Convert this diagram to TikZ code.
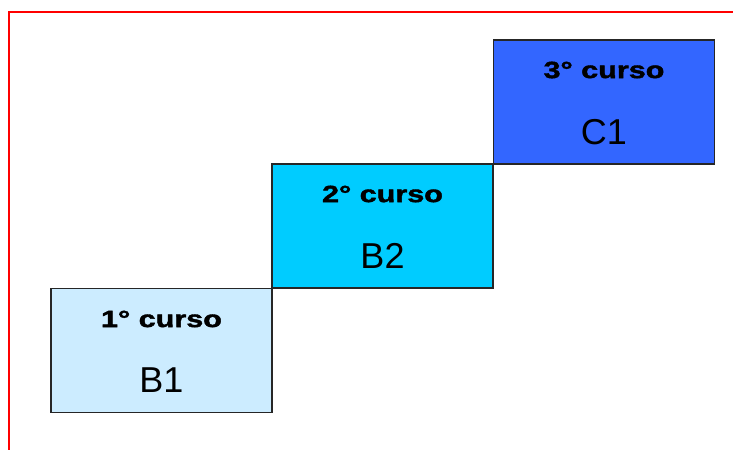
\documentclass[tikz,border=0pt]{standalone}
\usepackage{graphicx}
\usepackage{fontspec}
\setmainfont{Liberation Sans}
\newfontfamily\cursofont{Liberation Sans}[BoldFeatures={FakeBold=1.6}]
\usetikzlibrary{positioning}
\definecolor{primero}{HTML}{CCECFF}
\definecolor{segundo}{HTML}{00CCFF}
\definecolor{tercero}{HTML}{3366FF}
\newcommand{\curso}[1]{\scalebox{1.30}[1]{#1}}
\begin{document}
\begin{tikzpicture}[x=1pt, y=-1pt,
        cursobox/.style={draw=black!85, line width=1.6pt, minimum width=221pt, minimum height=124pt, inner sep=0pt},
        cursotitle/.style={font=\fontsize{23.5}{23.5}\cursofont\bfseries, inner sep=0pt},
        nivel/.style={font=\fontsize{36}{36}\selectfont, inner sep=0pt}]
        \useasboundingbox (0,0) rectangle (733,450);
        \draw[red, line width=2pt] (733,12) -- (9,12) -- (9,450);
        % los tres cursos
        \node[cursobox, fill=primero] (b1) at (161.5,350.5) {};
        \node[cursobox, fill=segundo] (b2) at (382.5,226) {};
        \node[cursobox, fill=tercero] (c1) at (604,102) {};
        \node[cursotitle] (t1) at (161.5,319) {\curso{1° curso}};
        \node[nivel] (n1) at (161.5,380) {B1};
        \node[cursotitle] (t2) at (382.5,194) {\curso{2° curso}};
        \node[nivel] (n2) at (382.5,256) {B2};
        \node[cursotitle] (t3) at (604,70) {\curso{3° curso}};
        \node[nivel] (n3) at (604,132) {C1};
    \end{tikzpicture}
\end{document}
